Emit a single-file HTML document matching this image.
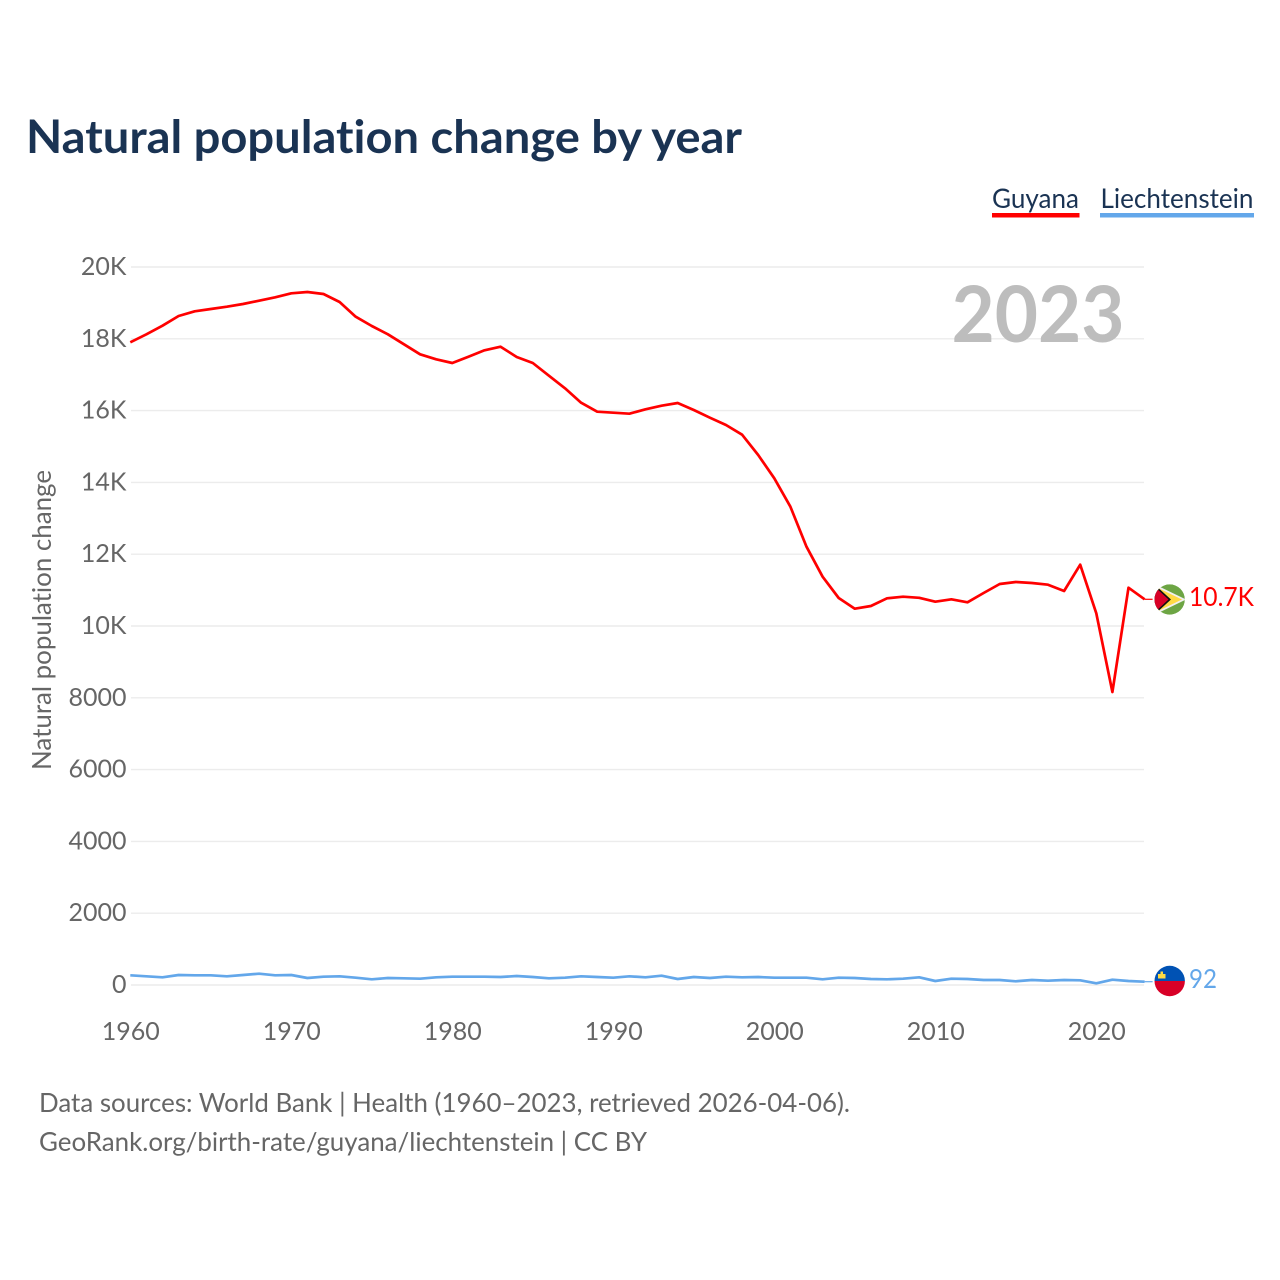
<!DOCTYPE html>
<html lang="en">
<head>
<meta charset="utf-8">
<title>Natural population change by year</title>
<style>
html,body{margin:0;padding:0;background:#fff;width:1280px;height:1280px;overflow:hidden}
svg{display:block}
text{font-family:"Lato","Carlito","Liberation Sans",sans-serif;font-variant-ligatures:none;font-feature-settings:"liga" 0,"clig" 0}
</style>
</head>
<body>
<svg id="chart" xmlns="http://www.w3.org/2000/svg" width="1280" height="1280" viewBox="0 0 1280 1280">
  <defs>
    <clipPath id="flag-clip-top"><circle cx="1169.7" cy="599.5" r="15.2"/></clipPath>
    <clipPath id="flag-clip-bottom"><circle cx="1169.7" cy="981" r="15.2"/></clipPath>
  </defs>
  <rect x="0" y="0" width="1280" height="1280" fill="#fff"/>
  <text x="26" y="153" font-size="46" font-weight="700" fill="#1a3353" textLength="716" lengthAdjust="spacingAndGlyphs">Natural population change by year</text>

  <g>
    <text x="992" y="208" font-size="27" fill="#1a3353" textLength="87" lengthAdjust="spacingAndGlyphs">Guyana</text>
    <rect x="992" y="213" width="87.5" height="4.5" fill="#ff0000"/>
  </g>
  <g>
    <text x="1100.5" y="208" font-size="27" fill="#1a3353" textLength="153" lengthAdjust="spacingAndGlyphs">Liechtenstein</text>
    <rect x="1100" y="213" width="154" height="4.5" fill="#63a7ea"/>
  </g>

  <g id="grid"></g>
  <g id="y-axis"></g>
  <g id="x-axis"></g>

  <text transform="translate(51,770) rotate(-90)" x="0" y="0" font-size="26" fill="#666" textLength="300" lengthAdjust="spacingAndGlyphs">Natural population change</text>
  <text x="1124.5" y="342" text-anchor="end" font-size="78" font-weight="700" fill="#bdbdbd" textLength="173" lengthAdjust="spacingAndGlyphs">2023</text>

  <g id="series"></g>

  <g clip-path="url(#flag-clip-top)">
    <circle cx="1169.7" cy="599.5" r="15.2" fill="#6da544"/>
    <path d="M1154 584 L1186 599.5 L1154 615 Z" fill="#f0f0f0"/>
    <path d="M1156 587 L1182 599.5 L1156 612 Z" fill="#ffda44"/>
    <path d="M1154 584 L1171 599.5 L1154 615 Z" fill="#111"/>
    <path d="M1154 586 L1168.5 599.5 L1154 613 Z" fill="#d80027"/>
  </g>
  <g clip-path="url(#flag-clip-bottom)">
    <rect x="1154" y="965" width="32" height="16" fill="#0052b4"/>
    <rect x="1154" y="981" width="32" height="16" fill="#d80027"/>
    <rect x="1158" y="974" width="7.5" height="4.5" fill="#ffda44"/>
    <rect x="1160.5" y="971.5" width="2.5" height="3" fill="#ffda44"/>
  </g>

  <text x="1189" y="606" font-size="26" fill="#ff0000" textLength="65" lengthAdjust="spacingAndGlyphs">10.7K</text>
  <text x="1189" y="988" font-size="26" fill="#63a7ea" textLength="28" lengthAdjust="spacingAndGlyphs">92</text>

  <text x="39" y="1112" font-size="26" fill="#666" textLength="811" lengthAdjust="spacingAndGlyphs">Data sources: World Bank | Health (1960–2023, retrieved 2026-04-06).</text>
  <text x="39" y="1151" font-size="26" fill="#666" textLength="608" lengthAdjust="spacingAndGlyphs">GeoRank.org/birth-rate/guyana/liechtenstein | CC BY</text>
</svg>
<script>
const firstYear = 1960;
const guyanaValues = [17903,18125,18365,18635,18766,18830,18894,18969,19061,19156,19267,19304,19248,19025,18616,18357,18125,17847,17568,17429,17326,17501,17680,17780,17493,17326,16972,16621,16220,15969,15942,15914,16036,16136,16212,16017,15802,15599,15329,14763,14114,13323,12209,11373,10780,10482,10557,10772,10816,10786,10677,10744,10660,10919,11170,11226,11198,11150,10975,11708,10354,8162,11067,10744];
const liechtensteinValues = [269,241,214,279,269,269,241,279,316,269,279,195,232,241,204,158,195,186,176,214,232,232,232,223,251,223,186,204,241,223,204,241,214,260,167,223,195,232,214,223,204,204,204,158,204,195,167,158,176,214,111,176,167,139,139,102,139,121,139,130,46,149,111,92];
const yTickValues = [0,2000,4000,6000,8000,10000,12000,14000,16000,18000,20000];
const yTickLabels = ["0","2000","4000","6000","8000","10K","12K","14K","16K","18K","20K"];
const xTickYears = [1960,1970,1980,1990,2000,2010,2020];

const SVG_NS = "http://www.w3.org/2000/svg";
const xScale = year => 130.3 + (year - 1960) * 16.1;
const yScale = value => 985 - value * 0.0359;

function make(tag, attrs, parent) {
  const el = document.createElementNS(SVG_NS, tag);
  Object.keys(attrs).forEach(k => el.setAttribute(k, attrs[k]));
  parent.appendChild(el);
  return el;
}

const gridGroup = document.getElementById("grid");
const yAxisGroup = document.getElementById("y-axis");
const xAxisGroup = document.getElementById("x-axis");
const seriesGroup = document.getElementById("series");

yTickValues.forEach((value, i) => {
  const line = make("line", {x1: 131, x2: 1144, y1: yScale(value), y2: yScale(value), stroke: "#ececec", "stroke-width": 1.4}, gridGroup);
  
  
  const label = make("text", {x: 126.5, y: yScale(value) + 8, "text-anchor": "end", "font-size": 25, fill: "#666"}, yAxisGroup);
  
  
  label.textContent = yTickLabels[i];
});

xTickYears.forEach(year => {
  const label = make("text", {x: xScale(year) + 0.5, y: 1040, "text-anchor": "middle", "font-size": 25, fill: "#666"}, xAxisGroup);
  
  
  label.textContent = String(year);
});

function drawSeries(values, color, seriesName, connectorName) {
  const points = values.map((v, i) => xScale(firstYear + i).toFixed(1) + "," + yScale(v).toFixed(1)).join(" ");
  const line = make("polyline", {points: points, fill: "none", stroke: color, "stroke-width": 2.7, "stroke-linejoin": "round"}, seriesGroup);
  
  
  const lastX = xScale(firstYear + values.length - 1);
  const lastY = yScale(values[values.length - 1]);
  const connector = make("line", {x1: lastX, x2: lastX + 8, y1: lastY, y2: lastY, stroke: color, "stroke-width": 1.2}, seriesGroup);
  
  
}

drawSeries(liechtensteinValues, "#63a7ea", "series-line-liechtenstein", "connector-liechtenstein");
drawSeries(guyanaValues, "#ff0000", "series-line-guyana", "connector-guyana");
</script>
</body>
</html>
